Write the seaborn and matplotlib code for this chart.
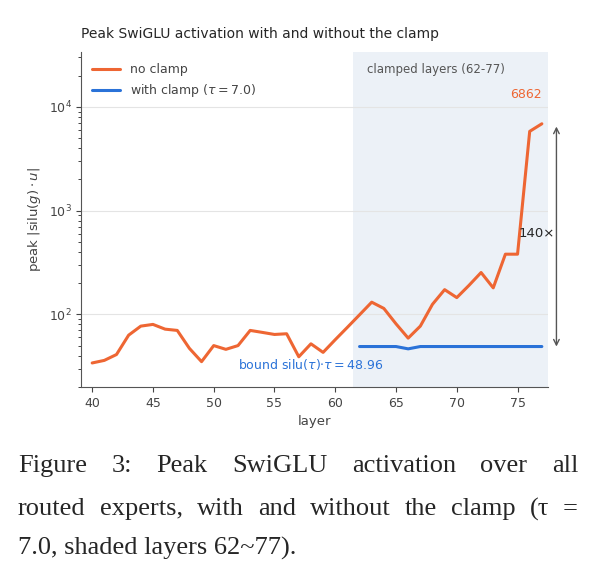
import numpy as np
import pandas as pd
import matplotlib
matplotlib.use("Agg")
import matplotlib.pyplot as plt
import seaborn as sns

layers = list(range(40, 78))
no_clamp = [34, 36, 41, 63, 77, 80, 72, 70, 47, 35, 50, 46, 50, 70, 67, 64, 65, 39, 52, 43,
            57, 75, 99, 131, 114, 81, 59, 77, 125, 173, 145, 190, 253, 180, 380, 380, 5800, 6862]
clamp_layers = list(range(62, 78))
with_clamp = [48.96, 48.96, 48.96, 48.96, 46.5, 48.96, 48.96, 48.96, 48.96, 48.96, 48.96,
              48.96, 48.96, 48.96, 48.96, 48.96]
caption_lines = ["Figure 3: Peak SwiGLU activation over all",
                 "routed experts, with and without the clamp (τ =",
                 "7.0, shaded layers 62~77)."]

sns.set_style("ticks")
plt.rcParams['font.family'] = ['DejaVu Sans']
fig = plt.figure(figsize=(5.93, 5.74), dpi=100)
ax = fig.add_axes([0.137, 0.326, 0.787, 0.584])

ax.axvspan(61.5, 77.5, color="#dde6f2", alpha=0.55, lw=0, zorder=0)
df1 = pd.DataFrame({"layer": layers, "v": no_clamp})
df2 = pd.DataFrame({"layer": clamp_layers, "v": with_clamp})
sns.lineplot(data=df1, x="layer", y="v", ax=ax, color="#ee6633", lw=2.2, label="no clamp")
sns.lineplot(data=df2, x="layer", y="v", ax=ax, color="#2a72d8", lw=2.2,
             label=r"with clamp ($\tau = 7.0$)")
ax.set_yscale("log")
ax.set_ylim(20, 34000)
ax.set_xlim(39.1, 77.5)
ax.grid(axis="y", which="major", color="#e4e4e4", lw=0.8)
ax.set_axisbelow(True)
sns.despine(ax=ax)
for s in ["left", "bottom"]:
    ax.spines[s].set_color("#555555")
ax.tick_params(colors="#444444", labelsize=9)
ax.set_xlabel("layer", color="#444444", fontsize=9.5)
ax.set_ylabel(r"peak $|\mathrm{silu}(g)\cdot u|$", color="#444444", fontsize=9.5)
ax.set_title("Peak SwiGLU activation with and without the clamp", loc="left", fontsize=10, pad=10)
leg = ax.legend(loc="upper left", frameon=False, fontsize=9, handlelength=2.2)
for t in leg.get_texts():
    t.set_color("#444444")

ax.text(62.6, 23000, "clamped layers (62-77)", fontsize=8.5, color="#555555", va="center")
ax.text(77, 13000, "6862", fontsize=9, color="#ee6633", ha="right", va="center")
ax.text(52, 30, r"bound silu($\tau$)$\cdot\tau = 48.96$", fontsize=9, color="#2a72d8")
ax.annotate("", xy=(78.2, 6862), xytext=(78.2, 46), xycoords="data",
            arrowprops=dict(arrowstyle="<->", color="#555555", lw=1), annotation_clip=False)
ax.text(76.6, 600, "140×", fontsize=9.5, va="center", ha="center")

# justified caption
fig.canvas.draw()
renderer = fig.canvas.get_renderer()
x0, x1 = 18 / 593, 578 / 593
ys = [1 - 466 / 574, 1 - 509 / 574, 1 - 548 / 574]
fs = 19
for i, (line, y) in enumerate(zip(caption_lines, ys)):
    words = line.split(" ")
    if i == len(caption_lines) - 1:
        fig.text(x0, y, line, family="Liberation Serif", fontsize=fs, va="center")
        continue
    arts = [fig.text(0, y, w, family="Liberation Serif", fontsize=fs, va="center") for w in words]
    widths = [a.get_window_extent(renderer).width / fig.bbox.width for a in arts]
    gap = (x1 - x0 - sum(widths)) / (len(words) - 1)
    x = x0
    for a, w in zip(arts, widths):
        a.set_x(x)
        x += w + gap

fig.savefig("out.png", dpi=100)
